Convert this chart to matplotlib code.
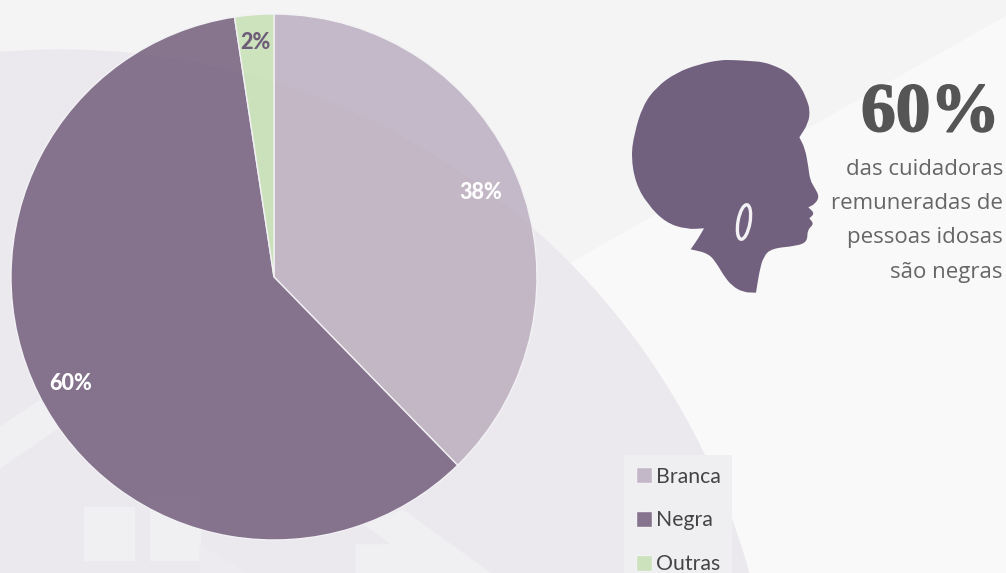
import numpy as np
import matplotlib
matplotlib.use('Agg')
import matplotlib.pyplot as plt
import matplotlib.patheffects as pe
from matplotlib.colors import to_rgba
from matplotlib.path import Path
from matplotlib.patches import Circle, Ellipse, PathPatch, Polygon, Rectangle

# Data
categories = ['Branca', 'Negra', 'Outras']
values = [37.7, 59.9, 2.4]
# slightly see-through, the disc behind shows in the pie
colors = [to_rgba(c, 0.8) for c in ['#b9abbd', '#6c5675', '#c3dfaf']]

W, H = 1006, 573
fig = plt.figure(figsize=(W / 100, H / 100), dpi=100)

# background in pixel coordinates
bg = fig.add_axes([0, 0, 1, 1])
bg.set_xlim(0, W)
bg.set_ylim(H, 0)
bg.axis('off')
bg.add_patch(Rectangle((0, 0), W, H, color='#f9f9f9', zorder=0))
bg.add_patch(Polygon([(0, 0), (W, 0), (W, 15), (0, 585)], color='#f4f4f5', zorder=1))
bg.add_patch(Circle((60, 765), 715, color='#ebe9ee', zorder=2))

# faint shapes inside the disc
shapes = [
    [(0, 427), (41, 400), (58, 428), (0, 468)],
    [(84, 507), (134, 507), (134, 560), (84, 560)],
    [(150, 495), (200, 495), (200, 560), (150, 560)],
    [(403, 510), (490, 573), (356, 573), (356, 545), (393, 545), (365, 525)],
]
for s in shapes:
    bg.add_patch(Polygon(s, color='#f0eff2', zorder=3))
bg.add_patch(Polygon([(200, 545), (247, 573), (200, 573)], color='#edebf0', zorder=3))

# silhouette (a doubled point keeps a sharp corner)
head = np.array([
    (700, 180), (750, 183), (790, 186), (830, 200), (860, 215), (885, 238), (905, 265), (920, 298),
    (930, 330), (925, 370), (898, 412), (898, 412), (915, 445), (925, 500), (930, 540), (945, 565), (958, 590),
    (945, 612), (925, 622), (925, 622), (944, 640), (928, 655), (928, 655), (942, 672), (922, 690), (922, 725), (890, 738),
    (815, 745), (790, 770), (778, 815), (768, 878), (768, 878), (730, 877), (695, 857), (670, 825), (650, 790),
    (625, 760), (572, 748), (572, 748), (595, 715), (612, 685), (612, 685), (560, 688), (497, 668), (442, 612), (407, 550),
    (393, 470), (403, 400), (428, 318), (468, 262), (530, 217), (600, 192), (660, 180),
]) / 3 + (500, 0)
mids = (head + np.roll(head, -1, axis=0)) / 2
verts = [mids[-1]]
codes = [Path.MOVETO]
for p, m in zip(head, mids):
    verts += [p, m]
    codes += [Path.CURVE3, Path.CURVE3]
bg.add_patch(PathPatch(Path(verts, codes), fc='#71607e', ec='none', zorder=4))
bg.add_patch(Ellipse((744, 222), 12, 35, angle=10, fill=False, ec='#f3f1f4', lw=2.4, zorder=5))

big = bg.text(1000, 131, '60%', ha='right', va='baseline', fontsize=50, fontweight='bold',
              family='Liberation Serif', color='#555555', zorder=6)
big.set_path_effects([pe.withStroke(linewidth=1.2, foreground='#555555')])
lines = ['das cuidadoras', 'remuneradas de', 'pessoas idosas', 'são negras']
baselines = [175, 209, 243, 278]
for t, y in zip(lines, baselines):
    bg.text(1003, y, t, ha='right', va='baseline', fontsize=16, family='Open Sans',
            color='#666666', zorder=6)

# pie
cx, cy, r = 274, 277, 263
ax = fig.add_axes([(cx - r) / W, 1 - (cy + r) / H, 2 * r / W, 2 * r / H])
wedges, texts, autotexts = ax.pie(values, colors=colors, startangle=90, counterclock=False,
                                  autopct='%.0f%%', pctdistance=0.85,
                                  wedgeprops={'edgecolor': '#f2f1f4', 'linewidth': 1},
                                  textprops={'family': 'Lato', 'fontweight': 'black', 'fontsize': 15.5, 'color': 'white'})
autotexts[1].set_position((-0.775, -0.405))
autotexts[2].set_color('#6d5d79')
autotexts[2].set_position((-0.07, 0.89))
ax.set_xlim(-1, 1)
ax.set_ylim(-1, 1)

leg = fig.legend(wedges, categories, loc='upper left', bbox_to_anchor=(624 / W, 1 - 455 / H),
                 prop={'family': 'Lato', 'size': 15.3}, labelcolor='#444444', frameon=True,
                 facecolor='#efeef1', edgecolor='none', framealpha=1, fancybox=False,
                 handlelength=0.75, handleheight=0.75, handletextpad=0.2, labelspacing=1.12,
                 borderaxespad=0, borderpad=0.55)

fig.savefig('out.png', dpi=100)
